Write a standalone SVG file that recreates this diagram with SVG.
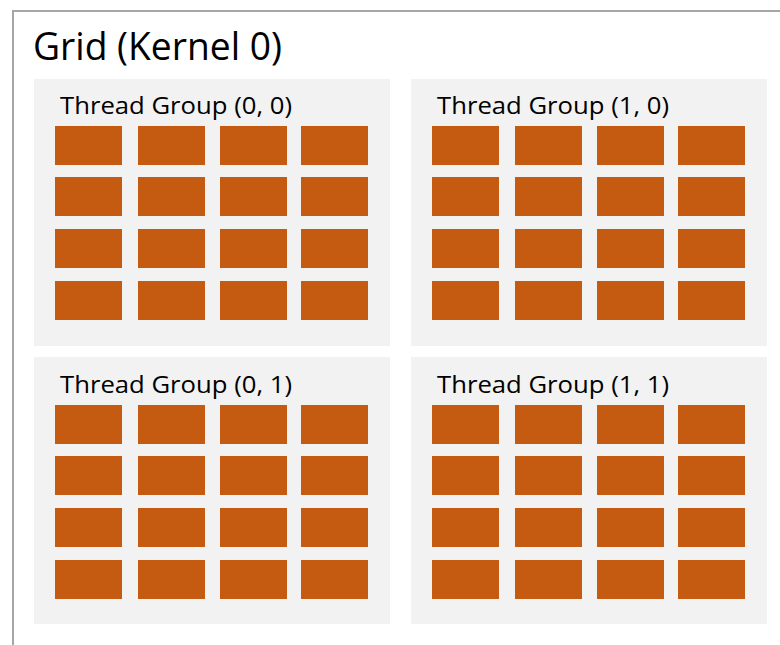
<svg xmlns="http://www.w3.org/2000/svg" width="780" height="645" viewBox="0 0 780 645">
<style>
.grp{fill:#f2f2f2}
.cell{fill:#c55a11}
.lbl{font-family:"Open Sans","Noto Sans",sans-serif;font-size:24px;fill:#000}
.title{font-family:"Open Sans","Noto Sans",sans-serif;font-size:38px;fill:#000}
</style>
<defs>
<g id="cells">
<rect class="cell" x="0" y="0" width="67" height="39"/><rect class="cell" x="83" y="0" width="67" height="39"/><rect class="cell" x="165" y="0" width="67" height="39"/><rect class="cell" x="246" y="0" width="67" height="39"/>
<rect class="cell" x="0" y="51" width="67" height="39"/><rect class="cell" x="83" y="51" width="67" height="39"/><rect class="cell" x="165" y="51" width="67" height="39"/><rect class="cell" x="246" y="51" width="67" height="39"/>
<rect class="cell" x="0" y="103" width="67" height="39"/><rect class="cell" x="83" y="103" width="67" height="39"/><rect class="cell" x="165" y="103" width="67" height="39"/><rect class="cell" x="246" y="103" width="67" height="39"/>
<rect class="cell" x="0" y="155" width="67" height="39"/><rect class="cell" x="83" y="155" width="67" height="39"/><rect class="cell" x="165" y="155" width="67" height="39"/><rect class="cell" x="246" y="155" width="67" height="39"/>
</g>
</defs>
<rect x="0" y="0" width="780" height="645" fill="#fff"/>
<g id="grid">
<path d="M13 645 V11 H780" fill="none" stroke="#a6a6a6" stroke-width="2"/>
<text class="title" x="33" y="60" textLength="249" lengthAdjust="spacingAndGlyphs">Grid (Kernel 0)</text>
</g>
<g id="tg00">
<rect class="grp" x="34" y="79" width="356" height="267"/>
<text class="lbl" x="60" y="114" textLength="232" lengthAdjust="spacingAndGlyphs">Thread Group (0, 0)</text>
<use href="#cells" x="55" y="126"/>
</g>
<g id="tg10">
<rect class="grp" x="411" y="79" width="356" height="267"/>
<text class="lbl" x="437" y="114" textLength="232" lengthAdjust="spacingAndGlyphs">Thread Group (1, 0)</text>
<use href="#cells" x="432" y="126"/>
</g>
<g id="tg01">
<rect class="grp" x="34" y="357" width="356" height="267"/>
<text class="lbl" x="60" y="393" textLength="232" lengthAdjust="spacingAndGlyphs">Thread Group (0, 1)</text>
<use href="#cells" x="55" y="405"/>
</g>
<g id="tg11">
<rect class="grp" x="411" y="357" width="356" height="267"/>
<text class="lbl" x="437" y="393" textLength="232" lengthAdjust="spacingAndGlyphs">Thread Group (1, 1)</text>
<use href="#cells" x="432" y="405"/>
</g>
<g id="connectors"/>
</svg>
